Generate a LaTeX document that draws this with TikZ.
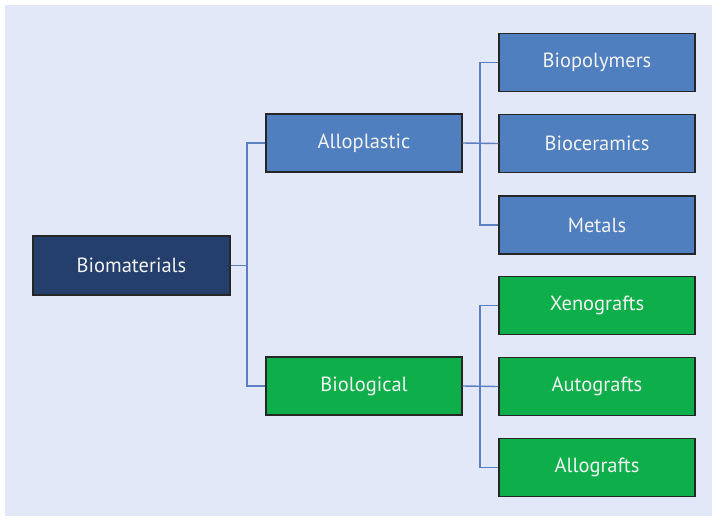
\documentclass[tikz,border=0pt]{standalone}
\usepackage{fontspec}
\setmainfont{PT Sans}
\definecolor{bgc}{HTML}{E3E8F9}
\definecolor{navy}{HTML}{243F6C}
\definecolor{bluebox}{HTML}{4F7FBE}
\definecolor{greenbox}{HTML}{0EAF4B}
\definecolor{linec}{HTML}{5B7FBF}
\definecolor{txt}{HTML}{F2F2F2}
\begin{document}
\begin{tikzpicture}[x=1pt,y=-1pt,
  box/.style={draw=black!85,line width=1.3pt,minimum width=196pt,minimum height=58pt,inner sep=0pt,text=txt,font=\fontsize{20.5}{22}\selectfont},
  conn/.style={draw=linec,line width=1.4pt}]
\useasboundingbox (0,0) rectangle (714,519);
\fill[white] (0,0) rectangle (714,519);
\fill[bgc] (5,5) rectangle (712,516);
\node[box,fill=navy,minimum width=197pt,minimum height=59pt] (bio) at (131.5,265.5) {Biomaterials};
\node[box,fill=bluebox] (allo) at (364,143) {Alloplastic};
\node[box,fill=greenbox] (biol) at (364,386) {Biological};
\node[box,fill=bluebox] (poly) at (597,62.5) {Biopolymers};
\node[box,fill=bluebox] (cer) at (597,143.5) {Bioceramics};
\node[box,fill=bluebox] (met) at (597,225) {Metals};
\node[box,fill=greenbox] (xen) at (597,305.5) {Xenografts};
\node[box,fill=greenbox] (aut) at (597,386.5) {Autografts};
\node[box,fill=greenbox] (all) at (597,467.5) {Allografts};
\coordinate (j1) at (247,265.5);
\coordinate (j2) at (480,143);
\coordinate (j3) at (480,386);
\draw[conn] (bio.east) -- (j1);
\draw[conn] (allo.west) -| (j1) |- (biol.west);
\draw[conn] (allo.east) -- (cer.west);
\draw[conn] (poly.west) -| (j2) |- (met.west);
\draw[conn] (biol.east) -- (aut.west);
\draw[conn] (xen.west) -| (j3) |- (all.west);
\end{tikzpicture}
\end{document}
